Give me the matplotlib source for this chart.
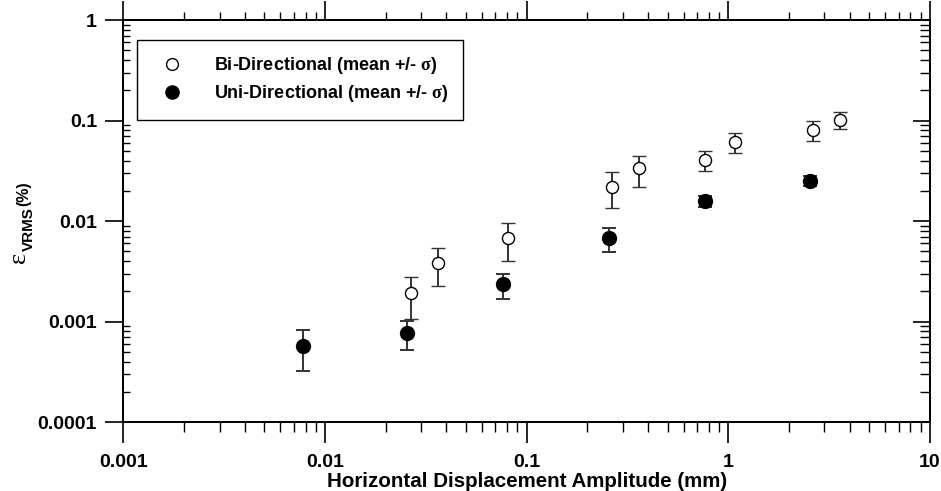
import matplotlib
matplotlib.use('Agg')
import matplotlib.pyplot as plt
from matplotlib.lines import Line2D
from matplotlib.ticker import LogLocator, FixedLocator, FixedFormatter, NullFormatter

plt.rcParams['font.family'] = ['Liberation Sans', 'DejaVu Sans']
plt.rcParams['font.weight'] = 'bold'
plt.rcParams['mathtext.fontset'] = 'custom'
plt.rcParams['mathtext.rm'] = 'Liberation Serif'
plt.rcParams['mathtext.it'] = 'Liberation Serif'
plt.rcParams['mathtext.bf'] = 'Liberation Sans:bold'

# Bi-directional tests (open circles): amplitude (mm), mean strain (%), mean-sigma, mean+sigma
bi_x = [0.0267, 0.0363, 0.081, 0.266, 0.362, 0.767, 1.08, 2.64, 3.58]
bi_y = [0.00192, 0.00383, 0.0068, 0.0220, 0.0336, 0.0407, 0.0607, 0.0807, 0.1015]
bi_lo = [0.00106, 0.00224, 0.00398, 0.0134, 0.0219, 0.0316, 0.0475, 0.063, 0.0826]
bi_hi = [0.00275, 0.0054, 0.0096, 0.0311, 0.0447, 0.0501, 0.0747, 0.0985, 0.121]

# Uni-directional tests (filled circles)
uni_x = [0.00774, 0.0256, 0.0767, 0.257, 0.767, 2.54]
uni_y = [0.000565, 0.00077, 0.00236, 0.00672, 0.0157, 0.0252]
uni_lo = [0.000325, 0.00052, 0.00169, 0.0049, 0.0137, 0.0225]
uni_hi = [0.00082, 0.00102, 0.003, 0.0085, 0.0179, 0.0278]

x_ticks = [0.001, 0.01, 0.1, 1, 10]
x_labels = ['0.001', '0.01', '0.1', '1', '10']
y_ticks = [0.0001, 0.001, 0.01, 0.1, 1]
y_labels = ['0.0001', '0.001', '0.01', '0.1', '1']

ebar_col = '#333333'


def yerr(y, lo, hi):
    return [[a - b for a, b in zip(y, lo)], [c - a for a, c in zip(y, hi)]]


def minor_loc():
    return LogLocator(base=10, subs=range(2, 10), numticks=20)


fig = plt.figure(figsize=(9.41, 4.91), dpi=100)
ax = fig.add_axes([0.1312, 0.1405, 0.857, 0.8187])
ax.set_xscale('log')
ax.set_yscale('log')
ax.set_xlim(0.001, 10)
ax.set_ylim(0.0001, 1)

ax.errorbar(uni_x, uni_y, yerr=yerr(uni_y, uni_lo, uni_hi), fmt='o', ms=10,
            mfc='black', mec='black', ecolor=ebar_col, elinewidth=1.4,
            capsize=5.2, capthick=1.4, zorder=3)
ax.errorbar(bi_x, bi_y, yerr=yerr(bi_y, bi_lo, bi_hi), fmt='o', ms=8.7,
            mfc='white', mec='black', mew=1.0, ecolor=ebar_col, elinewidth=1.4,
            capsize=5.2, capthick=1.4, zorder=3)

ax.xaxis.set_major_locator(FixedLocator(x_ticks))
ax.xaxis.set_major_formatter(FixedFormatter(x_labels))
ax.xaxis.set_minor_locator(minor_loc())
ax.xaxis.set_minor_formatter(NullFormatter())
ax.yaxis.set_major_locator(FixedLocator(y_ticks))
ax.yaxis.set_major_formatter(FixedFormatter(y_labels))
ax.yaxis.set_minor_locator(minor_loc())
ax.yaxis.set_minor_formatter(NullFormatter())

ax.tick_params(axis='x', which='major', direction='out', length=15, width=1.2,
               labelsize=14, pad=8)
ax.tick_params(axis='x', which='minor', direction='out', length=7, width=1.0)
ax.tick_params(axis='y', which='major', direction='out', length=13, width=1.2,
               labelsize=14, pad=6)
ax.tick_params(axis='y', which='minor', direction='in', length=5, width=1.0)
for lab in ax.get_xticklabels() + ax.get_yticklabels():
    lab.set_fontweight('bold')
for sp in ax.spines.values():
    sp.set_linewidth(1.3)

# top axis: ticks outward, no labels
top = ax.twiny()
top.set_xscale('log')
top.set_xlim(ax.get_xlim())
top.xaxis.set_major_locator(FixedLocator(x_ticks))
top.xaxis.set_minor_locator(minor_loc())
top.xaxis.set_minor_formatter(NullFormatter())
top.tick_params(axis='x', which='major', direction='out', length=14, width=1.2, labeltop=False)
top.tick_params(axis='x', which='minor', direction='out', length=6, width=1.0)

# right axis: ticks inward, no labels
right = ax.twinx()
right.set_yscale('log')
right.set_ylim(ax.get_ylim())
right.yaxis.set_major_locator(FixedLocator(y_ticks))
right.yaxis.set_minor_locator(minor_loc())
right.yaxis.set_minor_formatter(NullFormatter())
right.tick_params(axis='y', which='major', direction='in', length=12, width=1.2, labelright=False)
right.tick_params(axis='y', which='minor', direction='in', length=7, width=1.0)
for a in (top, right):
    for sp in a.spines.values():
        sp.set_linewidth(1.3)

ax.set_xlabel('Horizontal Displacement Amplitude (mm)', fontsize=14.8, fontweight='bold',
              labelpad=1)

# y label pieces: epsilon, lowered VRMS, then (%)
fig.text(25 / 941, 1 - 263 / 491, 'ε', fontsize=19, family='Liberation Serif',
         fontweight='normal', rotation=90, rotation_mode='anchor', ha='left', va='baseline')
fig.text(33 / 941, 1 - 251 / 491, 'VRMS', fontsize=11, fontweight='bold',
         rotation=90, rotation_mode='anchor', ha='left', va='baseline')
fig.text(28 / 941, 1 - 206 / 491, '(%)', fontsize=11.5, fontweight='bold',
         rotation=90, rotation_mode='anchor', ha='left', va='baseline')

handles = [
    Line2D([], [], ls='none', marker='o', ms=8.5, mfc='white', mec='black', mew=1.0),
    Line2D([], [], ls='none', marker='o', ms=9.5, mfc='black', mec='black'),
]
labels = [r'Bi-Directional (mean +/- $\sigma$)', r'Uni-Directional (mean +/- $\sigma$)']
leg = ax.legend(handles, labels, loc='upper left', bbox_to_anchor=(0.0165, 0.95),
                borderaxespad=0, fancybox=False, edgecolor='black', framealpha=1,
                prop={'family': 'Liberation Sans', 'weight': 'bold', 'size': 13},
                handlelength=2.2, handletextpad=1.2, borderpad=0.85, labelspacing=0.38)
leg.get_frame().set_linewidth(1.0)

fig.savefig('out.png', dpi=100)
